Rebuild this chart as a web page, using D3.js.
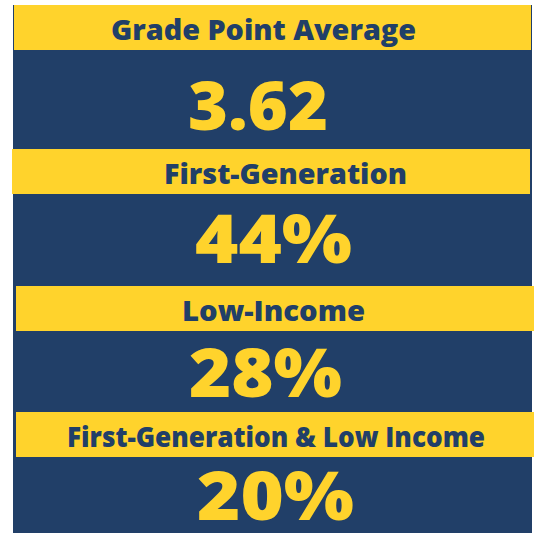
<!DOCTYPE html>
<html lang="en">
<head>
    <meta charset="UTF-8">
    <title>Student profile</title>
    <script src="https://cdn.jsdelivr.net/npm/d3@7"></script>
    <style>
        body { margin: 0; background: #fff; }
        text { font-family: "Open Sans", "DejaVu Sans", sans-serif; font-weight: 800; }
    </style>
</head>
<body>
<script>
    // data
    var labels = ["Grade Point Average", "First-Generation", "Low-Income", "First-Generation & Low Income"];
    var values = ["3.62", "44%", "28%", "20%"];

    // layout of each row (banner box and text spans), kept apart from the data
    var bannerTop = [5, 149, 286, 412];
    var bannerX = [[14, 531], [12, 530], [16, 534], [16, 534]];
    var labelSpan = [[111, 416], [164, 407], [182, 365], [67, 485]];
    var valueSpan = [[188, 328], [195, 352], [189, 342], [197, 354]];
    var valueBase = [130, 263, 397, 520];

    var width = 536, height = 533;
    var navy = "#213f68", yellow = "#ffd32c";
    var bannerH = 45;

    var svg = d3.select("body").append("svg")
        .attr("width", width)
        .attr("height", height);

    // dark panel behind everything
    svg.append("rect")
        .attr("x", 13).attr("y", 5)
        .attr("width", 532 - 13).attr("height", height - 5)
        .attr("fill", navy);

    var rows = svg.selectAll("g.row")
        .data(labels.map(function (d, i) { return {label: d, value: values[i], i: i}; }))
        .enter()
        .append("g")
        .attr("class", "row");

    rows.append("rect")
        .attr("x", function (d) { return bannerX[d.i][0]; })
        .attr("y", function (d) { return bannerTop[d.i]; })
        .attr("width", function (d) { return bannerX[d.i][1] - bannerX[d.i][0]; })
        .attr("height", bannerH)
        .attr("fill", yellow);

    rows.append("text")
        .attr("x", function (d) { return labelSpan[d.i][0]; })
        .attr("y", function (d) { return bannerTop[d.i] + 35; })
        .attr("font-size", 28)
        .attr("fill", navy)
        .attr("textLength", function (d) { return labelSpan[d.i][1] - labelSpan[d.i][0]; })
        .attr("lengthAdjust", "spacingAndGlyphs")
        .text(function (d) { return d.label; });

    rows.append("text")
        .attr("x", function (d) { return valueSpan[d.i][0]; })
        .attr("y", function (d) { return valueBase[d.i]; })
        .attr("font-size", 68)
        .attr("fill", yellow)
        .attr("textLength", function (d) { return valueSpan[d.i][1] - valueSpan[d.i][0]; })
        .attr("lengthAdjust", "spacingAndGlyphs")
        .text(function (d) { return d.value; });
</script>
</body>
</html>
